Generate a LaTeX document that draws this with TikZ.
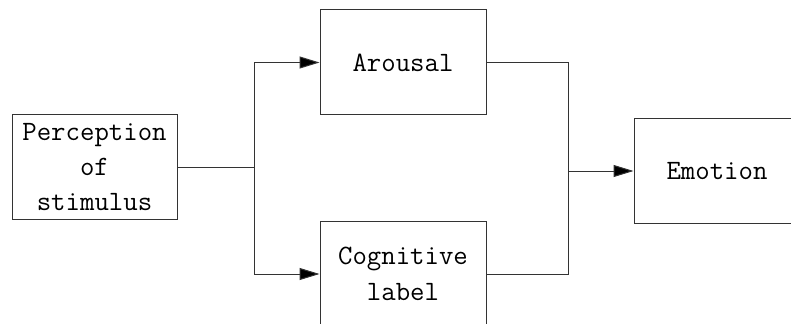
\documentclass[tikz,border=0pt]{standalone}
\usepackage{tikz}
\usetikzlibrary{arrows.meta}

\begin{document}
\begin{tikzpicture}[x=0.75pt,y=-0.75pt,>={Triangle[length=15pt,width=9pt,fill=black]},
    block/.style={draw=black!80,line width=0.75pt,rectangle,align=center,
      font=\fontsize{21}{26.5}\selectfont\ttfamily,inner sep=0pt},
    wire/.style={draw=black!80,line width=0.75pt}]
    \useasboundingbox (0,0) rectangle (791,324);
    \clip (0,0) rectangle (791,324);

    \node[block,minimum width=123.75pt,minimum height=78pt] (percept) at (94.5,167) {Perception\\of\\stimulus};
    \node[block,minimum width=124.5pt,minimum height=78.75pt] (arousal) at (403,62.5) {Arousal};
    \node[block,minimum width=124.5pt,minimum height=78.75pt] (cognitive) at (403,274) {Cognitive\\label};
    \node[block,minimum width=124.5pt,minimum height=78pt] (emotion) at (717,171) {Emotion};

    \coordinate (split) at (254,167);
    \coordinate (merge) at (568,171);

    % fan out from the stimulus
    \draw[wire] (percept) -- (split);
    \draw[wire,->] (split) |- (arousal);
    \draw[wire,->] (split) |- (cognitive);

    % join into emotion
    \draw[wire] (arousal) -| (merge);
    \draw[wire] (cognitive) -| (merge);
    \draw[wire,->] (merge) -- (emotion);
  \end{tikzpicture}
\end{document}
